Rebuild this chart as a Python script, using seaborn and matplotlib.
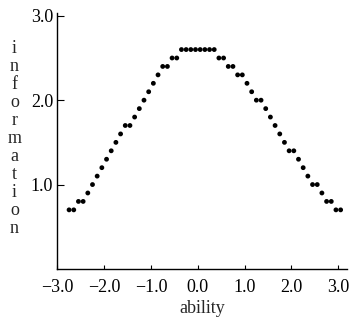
import numpy as np
import pandas as pd
import matplotlib
matplotlib.use('Agg')
import matplotlib.pyplot as plt
import seaborn as sns

# ability values, step 0.1
ability = [-2.75, -2.65, -2.55, -2.45, -2.35, -2.25, -2.15, -2.05, -1.95, -1.85,
           -1.75, -1.65, -1.55, -1.45, -1.35, -1.25, -1.15, -1.05, -0.95, -0.85,
           -0.75, -0.65, -0.55, -0.45, -0.35, -0.25, -0.15, -0.05, 0.05, 0.15,
           0.25, 0.35, 0.45, 0.55, 0.65, 0.75, 0.85, 0.95, 1.05, 1.15,
           1.25, 1.35, 1.45, 1.55, 1.65, 1.75, 1.85, 1.95, 2.05, 2.15,
           2.25, 2.35, 2.45, 2.55, 2.65, 2.75, 2.85, 2.95, 3.05]

information = [0.7, 0.7, 0.8, 0.8, 0.9, 1.0, 1.1, 1.2, 1.3, 1.4,
               1.5, 1.6, 1.7, 1.7, 1.8, 1.9, 2.0, 2.1, 2.2, 2.3,
               2.4, 2.4, 2.5, 2.5, 2.6, 2.6, 2.6, 2.6, 2.6, 2.6,
               2.6, 2.6, 2.5, 2.5, 2.4, 2.4, 2.3, 2.3, 2.2, 2.1,
               2.0, 2.0, 1.9, 1.8, 1.7, 1.6, 1.5, 1.4, 1.4, 1.3,
               1.2, 1.1, 1.0, 1.0, 0.9, 0.8, 0.8, 0.7, 0.7]

xticks = [-3.0, -2.0, -1.0, 0.0, 1.0, 2.0, 3.0]
yticks = [1.0, 2.0, 3.0]

df = pd.DataFrame({'ability': ability, 'information': information})

sns.set_style('ticks')
plt.rcParams['font.family'] = ['Liberation Serif', 'DejaVu Serif']
plt.rcParams['axes.unicode_minus'] = True

fig = plt.figure(figsize=(3.52, 3.24), dpi=100)
ax = fig.add_axes([0.163, 0.170, 0.822, 0.789])

sns.scatterplot(data=df, x='ability', y='information', color='black',
                s=12, edgecolor='none', ax=ax)

ax.set_xlim(-3.0, 3.18)
ax.set_ylim(0, 3.03)
ax.set_xticks(xticks)
ax.set_yticks(yticks)
ax.set_xticklabels([f'{v:.1f}'.replace('-', '\u2212') for v in xticks])
ax.set_yticklabels([f'{v:.1f}' for v in yticks])

sns.despine(ax=ax)
for sp in ['left', 'bottom']:
    ax.spines[sp].set_linewidth(1.0)
    ax.spines[sp].set_color('black')

ax.tick_params(axis='y', direction='in', length=5, width=0.8, labelsize=13, pad=3, colors='black')
ax.tick_params(axis='x', direction='in', length=3, width=0.8, labelsize=13, pad=7, colors='black')

ax.set_xlabel('ability', fontsize=13, labelpad=3)
ax.set_ylabel('\n'.join('information'), rotation=0, fontsize=13,
              va='center', ha='center', linespacing=1.08)
ax.yaxis.set_label_coords(-0.148, 0.51)

fig.savefig('out.png', dpi=100)
